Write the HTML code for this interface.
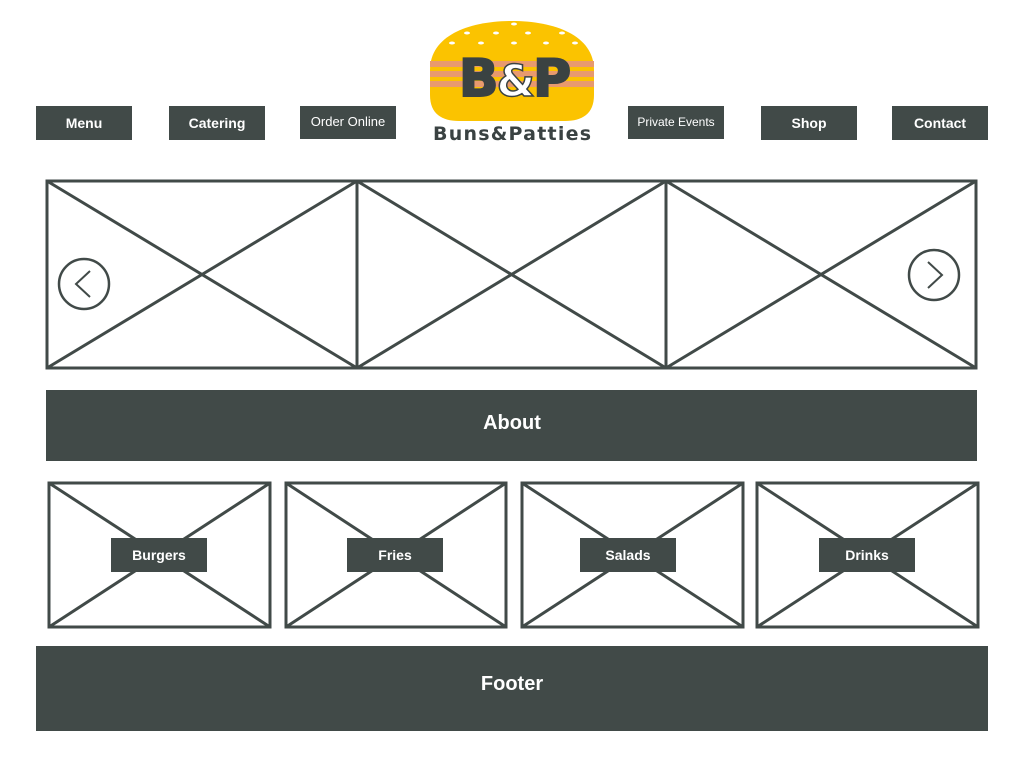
<!DOCTYPE html>
<html><head><meta charset="utf-8"><style>
html,body{margin:0;padding:0;background:#fff;width:1024px;height:768px;overflow:hidden}
svg{display:block}
text{font-family:"Liberation Sans",sans-serif;fill:#fff;font-weight:bold}
text.n{font-weight:normal}
</style></head><body>
<svg width="1024" height="768" viewBox="0 0 1024 768" xmlns="http://www.w3.org/2000/svg">
<g fill="#414a48">
<rect x="36" y="106" width="96" height="34"/>
<rect x="169" y="106" width="96" height="34"/>
<rect x="300" y="106" width="96" height="33"/>
<rect x="628" y="106" width="96" height="33"/>
<rect x="761" y="106" width="96" height="34"/>
<rect x="892" y="106" width="96" height="34"/>
</g>
<g text-anchor="middle" font-size="14">
<text x="84" y="128">Menu</text>
<text x="217" y="128">Catering</text>
<text class="n" x="348" y="126" font-size="13">Order Online</text>
<text class="n" x="676" y="126" font-size="12">Private Events</text>
<text x="809" y="128">Shop</text>
<text x="940" y="128">Contact</text>
</g>
<!-- logo -->
<path d="M430 70 C430 35 470 21 512 21 C554 21 594 35 594 70 L594 95 C594 114 582 121 565 121 L459 121 C442 121 430 114 430 95 Z" fill="#fbc300"/>
<g fill="#e89a6e">
<rect x="430" y="61" width="164" height="6"/>
<rect x="430" y="71" width="164" height="6"/>
<rect x="430" y="81" width="164" height="6"/>
</g>
<g fill="#fff">
<ellipse cx="514" cy="24" rx="3" ry="1.5"/>
<ellipse cx="467" cy="33" rx="3" ry="1.5"/><ellipse cx="496" cy="33" rx="3" ry="1.5"/><ellipse cx="528" cy="33" rx="3" ry="1.5"/><ellipse cx="562" cy="33" rx="3" ry="1.5"/>
<ellipse cx="452" cy="43" rx="3" ry="1.5"/><ellipse cx="481" cy="43" rx="3" ry="1.5"/><ellipse cx="514" cy="43" rx="3" ry="1.5"/><ellipse cx="546" cy="43" rx="3" ry="1.5"/><ellipse cx="575" cy="43" rx="3" ry="1.5"/>
</g>
<text x="514" y="96" text-anchor="middle" font-size="52" style="fill:#3a4242;stroke:#3a4242;stroke-width:2;font-family:'DejaVu Sans',sans-serif;font-weight:bold;letter-spacing:-2px">B<tspan style="fill:#fff;stroke:#3a4242;stroke-width:1.5" font-size="44">&amp;</tspan>P</text>
<text x="512" y="140" text-anchor="middle" font-size="19" textLength="158" style="fill:#3a4242;font-family:'DejaVu Sans',sans-serif;font-weight:bold">Buns&amp;Patties</text>
<!-- carousel -->
<g stroke="#414a48" stroke-width="3" fill="none">
<rect x="47" y="181" width="929" height="187"/>
<line x1="357" y1="181" x2="357" y2="368"/><line x1="666" y1="181" x2="666" y2="368"/>
<line x1="47" y1="181" x2="357" y2="368"/><line x1="357" y1="181" x2="47" y2="368"/>
<line x1="357" y1="181" x2="666" y2="368"/><line x1="666" y1="181" x2="357" y2="368"/>
<line x1="666" y1="181" x2="976" y2="368"/><line x1="976" y1="181" x2="666" y2="368"/>
</g>
<g stroke="#414a48" stroke-width="2.5" fill="#fff">
<circle cx="84" cy="284" r="25"/><circle cx="934" cy="275" r="25"/>
</g>
<g stroke="#414a48" stroke-width="2" fill="none">
<polyline points="90,271 76,284 90,297"/>
<polyline points="928,262 942,275 928,288"/>
</g>
<rect x="46" y="390" width="931" height="71" fill="#414a48"/>
<text x="512" y="429" text-anchor="middle" font-size="20">About</text>
<!-- tiles -->
<g stroke="#414a48" stroke-width="3" fill="none">
<rect x="49" y="483" width="221" height="144"/><line x1="49" y1="483" x2="270" y2="627"/><line x1="270" y1="483" x2="49" y2="627"/>
<rect x="286" y="483" width="220" height="144"/><line x1="286" y1="483" x2="506" y2="627"/><line x1="506" y1="483" x2="286" y2="627"/>
<rect x="522" y="483" width="221" height="144"/><line x1="522" y1="483" x2="743" y2="627"/><line x1="743" y1="483" x2="522" y2="627"/>
<rect x="757" y="483" width="221" height="144"/><line x1="757" y1="483" x2="978" y2="627"/><line x1="978" y1="483" x2="757" y2="627"/>
</g>
<g fill="#414a48">
<rect x="111" y="538" width="96" height="34"/>
<rect x="347" y="538" width="96" height="34"/>
<rect x="580" y="538" width="96" height="34"/>
<rect x="819" y="538" width="96" height="34"/>
</g>
<g text-anchor="middle" font-size="14">
<text x="159" y="560">Burgers</text>
<text x="395" y="560">Fries</text>
<text x="628" y="560">Salads</text>
<text x="867" y="560">Drinks</text>
</g>
<rect x="36" y="646" width="952" height="85" fill="#414a48"/>
<text x="512" y="690" text-anchor="middle" font-size="20">Footer</text>
</svg>
</body></html>
